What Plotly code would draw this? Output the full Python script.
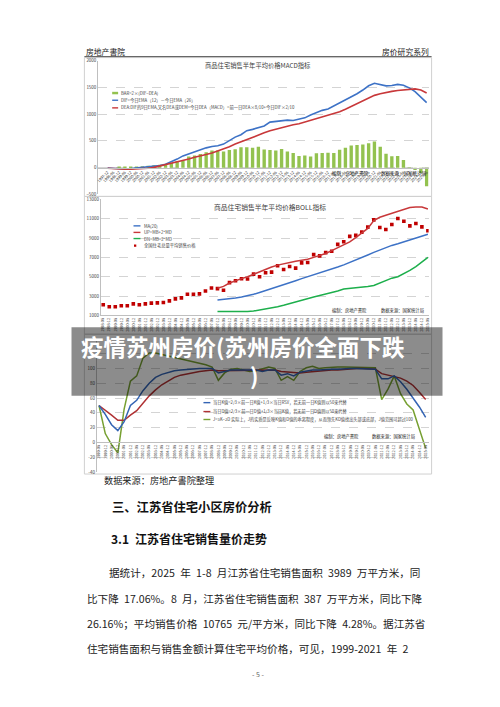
import plotly.graph_objects as go

W, H = 500, 707
FONT = "Noto Sans CJK SC"


def px(x):
    return x / W


def py(y):
    return 1 - y / H


# ---------------- data ----------------
periods = ["1997-12", "1998-06", "1998-12", "1999-06", "1999-12", "2000-06", "2000-12",
           "2001-06", "2001-12", "2002-06", "2002-12", "2003-06", "2003-12", "2004-06",
           "2004-12", "2005-06", "2005-12", "2006-06", "2006-12", "2007-06", "2007-12",
           "2008-06", "2008-12", "2009-06", "2009-12", "2010-06", "2010-12", "2011-06",
           "2011-12", "2012-06", "2012-12", "2013-06", "2013-12", "2014-06", "2014-12",
           "2015-06", "2015-12", "2016-06", "2016-12", "2017-06", "2017-12", "2018-06",
           "2018-12", "2019-06", "2019-12", "2020-06", "2020-12", "2021-06", "2021-12",
           "2022-06", "2022-12", "2023-06", "2023-12", "2024-06", "2024-12", "2025-06"]

# MACD chart
macd_labels = periods
macd_dif = [-5, -15, -25, -25, -18, -8, 5, 15, 25, 40,
            65, 110, 160, 220, 260, 290, 330, 370, 395, 410,
            440, 510, 570, 615, 690, 715, 750, 780, 850, 860,
            875, 888, 882, 905, 930, 985, 1030, 1070, 1095, 1150,
            1199, 1255, 1320, 1380, 1450, 1530, 1575, 1550, 1528, 1535,
            1556, 1540, 1490, 1420, 1320, 1215]
macd_dea = [-10, -20, -25, -28, -28, -25, -20, -12, 5, 30,
            60, 80, 100, 130, 160, 193, 215, 245, 275, 310,
            345, 390, 440, 485, 530, 570, 620, 650, 690, 720,
            750, 776, 800, 820, 850, 885, 915, 945, 975, 1010,
            1045, 1090, 1140, 1190, 1250, 1300, 1350, 1380, 1405, 1425,
            1440, 1455, 1468, 1472, 1450, 1395]
macd_bar = [0, 0, 5, 10, 12, 18, 25, 35, 45, 55,
            65, 85, 120, 135, 210, 225, 255, 290, 320, 320,
            300, 330, 345, 380, 380, 370, 390, 340, 330, 320,
            350, 300, 275, 220, 225, 207, 270, 272, 280, 272,
            335, 370, 415, 425, 432, 455, 490, 390, 262, 213,
            220, 145, -8, -45, -100, -345]

# BOLL chart
boll_labels = periods[1:]
boll_price = [2094, 1889, 1889, 1991, 1991, 2197, 2094, 2197, 2265, 2299,
              2333, 2504, 2709, 2812, 3188, 3188, 3222, 3530, 3838, 3769,
              3598, 4385, 4590, 4795, 4761, 5274, 5000, 5410, 5479, 6128,
              5752, 6060, 5889, 6436, 6470, 7291, 7154, 7496, 7632, 8350,
              8624, 9171, 9274, 9615, 10128, 10880, 10094, 9889, 10402, 11017,
              10744, 10265, 10504, 10162, 9752]
boll_line_labels = boll_labels[19:]
boll_ma = [2600, 2650, 2720, 2800, 2900, 3020, 3180, 3370, 3560, 3770,
           3990, 4190, 4380, 4590, 4800, 4990, 5170, 5360, 5560, 5780,
           6000, 6230, 6470, 6720, 6990, 7250, 7520, 7780, 8010, 8240,
           8420, 8610, 8800, 8980, 9180, 9400]
boll_up = [3800, 4000, 4350, 4600, 4800, 5000, 5250, 5550, 5750, 6000,
           6200, 6350, 6500, 6600, 6700, 6800, 7000, 7200, 7400, 7700,
           8000, 8250, 8600, 9050, 9500, 10000, 10800, 11150, 11350, 11550,
           11750, 12000, 12150, 12200, 12200, 12000]
boll_dn = [1400, 1390, 1380, 1370, 1380, 1400, 1450, 1550, 1650, 1780,
           1900, 2050, 2230, 2430, 2620, 2770, 2900, 3050, 3180, 3350,
           3520, 3720, 3780, 3840, 3920, 4000, 4100, 4350, 4600, 4850,
           5000, 5300, 5650, 6050, 6500, 7000]
boll_ticks = [1000, 3000, 5000, 7000, 9000, 11000, 13000]

# KDJ chart
kdj_labels = periods[3:]
kdj_k = [50, 38, 24, 16, 28, 50, 57, 70, 80, 88,
         92, 95, 97, 98, 99, 99, 100, 100, 100, 94,
         96, 98, 98, 98, 99, 98, 96, 98, 98, 91,
         93, 90, 95, 97, 98, 98, 99, 99, 99, 100,
         100, 100, 100, 100, 99, 86, 86, 90, 82, 72,
         60, 48, 34]
kdj_d = [50, 44, 37, 30, 30, 37, 43, 53, 63, 71,
         78, 83, 88, 91, 93, 95, 96, 97, 98, 97,
         97, 97, 97, 97, 98, 98, 97, 97, 98, 96,
         95, 94, 94, 95, 96, 96, 97, 98, 98, 99,
         99, 100, 100, 100, 99, 93, 91, 90, 87, 83,
         77, 68, 58]
kdj_j = [50, 12, -3, -14, 45, 83, 90, 114, 121, 121,
         119, 117, 115, 113, 111, 109, 107, 105, 102, 84,
         94, 99, 100, 98, 96, 97, 100, 102, 100, 84,
         89, 84, 96, 101, 103, 100, 101, 102, 102, 102,
         102, 102, 101, 101, 101, 58, 72, 90, 66, 52,
         44, 18, -8]
kdj_ticks = [-40, -20, 0, 20, 40, 60, 80, 100, 120, 140]
kdj_ticktext = ["-40", "-20", "0", "20", "40", "60", "80", "100", "", ""]

# ---------------- styles ----------------
BLUE = "#3D72C6"
RED = "#C8383A"
BAR_GREEN = "#93C24F"
BOLL_GREEN = "#1DAF4C"
KDJ_GREEN = "#77A032"
KDJ_BLUE = "#3464B4"
KDJ_RED = "#B03234"
GRID = "#D4D4D4"
AXIS = "#BFBFBF"
TICK = dict(family=FONT, size=4.5, color="#404040")
XTICK = dict(family=FONT, size=3.8, color="#404040")

fig = go.Figure()

# MACD traces
fig.add_bar(x=macd_labels, y=macd_bar, marker=dict(color=BAR_GREEN, line=dict(width=0)),
            width=0.58, xaxis="x", yaxis="y")
fig.add_scatter(x=macd_labels, y=macd_dif, mode="lines", line=dict(color=BLUE, width=1.6),
                xaxis="x", yaxis="y")
fig.add_scatter(x=macd_labels, y=macd_dea, mode="lines", line=dict(color=RED, width=1.6),
                xaxis="x", yaxis="y")

# BOLL traces
fig.add_scatter(x=boll_labels, y=boll_price, mode="markers",
                marker=dict(symbol="square", size=3.6, color="#C00000", line=dict(width=0)),
                xaxis="x2", yaxis="y2")
fig.add_scatter(x=boll_line_labels, y=boll_ma, mode="lines", line=dict(color=BLUE, width=1.5),
                xaxis="x2", yaxis="y2")
fig.add_scatter(x=boll_line_labels, y=boll_up, mode="lines", line=dict(color=RED, width=1.5),
                xaxis="x2", yaxis="y2")
fig.add_scatter(x=boll_line_labels, y=boll_dn, mode="lines", line=dict(color=BOLL_GREEN, width=1.5),
                xaxis="x2", yaxis="y2")

# KDJ traces
fig.add_scatter(x=kdj_labels, y=kdj_j, mode="lines", line=dict(color=KDJ_GREEN, width=1.5),
                xaxis="x3", yaxis="y3")
fig.add_scatter(x=kdj_labels, y=kdj_d, mode="lines", line=dict(color=KDJ_RED, width=1.5),
                xaxis="x3", yaxis="y3")
fig.add_scatter(x=kdj_labels, y=kdj_k, mode="lines", line=dict(color=KDJ_BLUE, width=1.5),
                xaxis="x3", yaxis="y3")

# ---------------- axes ----------------
Y1 = [-500, 2000]
D1 = [py(185), py(50)]
zero1 = D1[0] + (0 - Y1[0]) / (Y1[1] - Y1[0]) * (D1[1] - D1[0])
Y2 = [1000, 13000]
D2 = [py(307), py(190)]
Y3 = [-40, 140]
D3 = [py(465), py(330.7)]
zero3 = D3[0] + (0 - Y3[0]) / (Y3[1] - Y3[0]) * (D3[1] - D3[0])

common_y = dict(showgrid=True, gridcolor=GRID, griddash="dash", gridwidth=0.8,
                showline=True, linecolor=AXIS, linewidth=1, zeroline=False,
                tickfont=TICK, ticks="", fixedrange=True, tickformat="d")
common_x = dict(type="category", showgrid=False, showline=True, linecolor=AXIS,
                linewidth=1, ticks="", zeroline=False, fixedrange=True)

fig.update_layout(
    xaxis=dict(common_x, domain=[px(89), px(422)], anchor="free", position=zero1,
               range=[-1.59, 55.34], categoryorder="array", categoryarray=macd_labels,
               tickmode="array", tickvals=macd_labels,
               ticktext=macd_labels, tickangle=-45, tickfont=XTICK),
    yaxis=dict(common_y, domain=D1, range=Y1, dtick=500, anchor="x"),
    xaxis2=dict(common_x, domain=[px(91.7), px(422)], anchor="y2",
                range=[-0.38, 54.12], categoryorder="array", categoryarray=boll_labels,
                tickmode="array", tickvals=boll_labels,
                ticktext=boll_labels, tickangle=-90, tickfont=XTICK),
    yaxis2=dict(common_y, domain=D2, range=Y2, tickmode="array", tickvals=boll_ticks,
                anchor="x2"),
    xaxis3=dict(common_x, domain=[px(87.5), px(422)], anchor="free", position=zero3,
                range=[-0.35, 52.47], categoryorder="array", categoryarray=kdj_labels,
                tickmode="array", tickvals=kdj_labels,
                ticktext=kdj_labels, tickangle=-90, tickfont=XTICK),
    yaxis3=dict(common_y, domain=D3, range=Y3, tickmode="array", tickvals=kdj_ticks,
                ticktext=kdj_ticktext, anchor="x3"),
)

# ---------------- shapes & annotations ----------------
shapes = []
annotations = []


def text(x, y, s, size, color="#333333", anchor="left", bold=False, family=FONT):
    annotations.append(dict(
        x=px(x), y=py(y), xref="paper", yref="paper", text=s, showarrow=False,
        xanchor=anchor, yanchor="middle",
        font=dict(family=family, size=size, color=color, weight="bold" if bold else "normal")))


def hline(x0, x1, y, color, width=1.0, layer="above"):
    shapes.append(dict(type="line", xref="paper", yref="paper", x0=px(x0), x1=px(x1),
                       y0=py(y), y1=py(y), line=dict(color=color, width=width), layer=layer))


def rect(x0, y0, x1, y1, line=None, fill=None, layer="below"):
    shapes.append(dict(type="rect", xref="paper", yref="paper", x0=px(x0), x1=px(x1),
                       y0=py(y0), y1=py(y1),
                       line=dict(color=line or "rgba(0,0,0,0)", width=1 if line else 0),
                       fillcolor=fill or "rgba(0,0,0,0)", layer=layer))


# page header
text(75, 40.5, "房地产書院", 7.8, "#222222")
text(424, 40.5, "房价研究系列", 7.8, "#222222", anchor="right")
hline(75, 425, 46, "#555555", 1)

# chart frames
rect(75, 47, 425, 187, line="#D0D0D0")
rect(75, 187, 425, 326, line="#D0D0D0")
rect(75, 326, 425, 467, line="#D0D0D0")

# MACD chart title & legend
text(250, 54.5, "商品住宅销售半年平均价格MACD指标", 6.3, "#404040", anchor="center")
rect(103, 81.5, 109, 84, fill=BAR_GREEN, layer="above")
text(110, 82.7, "BAR=2×(DIF−DEA)", 4.3, "#404040")
hline(103, 109, 90, BLUE, 1.4)
text(110, 90, "DIF=今日EMA（12）－今日EMA（26）", 4.3, "#404040")
hline(103, 109, 97.7, RED, 1.4)
text(110, 97.7, "DEA:DIF的9日EMA,又名DEA或DEM=今日DEA（MACD）=前一日DEA×8/10+今日DIF×2/10", 4.3, "#404040")
text(323, 164, "编制：房地产書院", 4.5, "#222222")
text(372, 164, "数据来源：国家统计局", 4.5, "#222222")

# BOLL chart title & legend
text(262, 198, "商品住宅销售半年平均价格BOLL指标", 6.8, "#404040", anchor="center")
hline(124.5, 131.5, 216.7, BLUE, 1.4)
text(132.7, 216.7, "MA(20)", 4.3, "#404040")
hline(124.5, 131.5, 223.3, RED, 1.4)
text(132.7, 223.3, "UP=MB+2*MD", 4.3, "#404040")
hline(124.5, 131.5, 229.5, BOLL_GREEN, 1.4)
text(132.7, 229.5, "DN=MB−2*MD", 4.3, "#404040")
rect(125, 235.5, 127.3, 237.8, fill="#C00000", layer="above")
text(132.7, 236.7, "全国住宅总量平均销售价格", 4.3, "#404040")
text(323, 301.7, "编制：房地产書院", 4.3, "#222222")
text(372, 301.7, "数据来源：国家统计局", 4.3, "#222222")

# KDJ chart legend
hline(195, 202, 395, KDJ_BLUE, 1.4)
text(203, 395, "当日K值=2/3×前一日K值+1/3×当日RSV，若无前一日K值则以50来代替", 4.2, "#404040")
hline(195, 202, 404, KDJ_RED, 1.4)
text(203, 404, "当日D值=2/3×前一日D值+1/3×当日K值，若无前一日D值则以50来代替", 4.2, "#404040")
hline(195, 202, 412, KDJ_GREEN, 1.4)
text(203, 412, "J=3K−2D 实际上，J的实质是反映K值和D值的乖离程度，从而领先KD值找出头部或底部，J值范围可超过100", 4.2, "#404040")
text(315, 429.3, "编制：房地产書院", 4.3, "#222222")
text(363, 429.3, "数据来源：国家统计局", 4.3, "#222222")

# overlay band with article title
rect(62, 319, 436, 388, fill="rgba(0,0,0,0.45)", layer="above")
text(70, 338, "疫情苏州房价(苏州房价全面下跌", 22.5, "#FFFFFF", bold=True)
text(246, 367, ")", 22.5, "#FFFFFF", anchor="center", bold=True)

# document text (en-spaces mimic the half-width spacing of the original)
SP = "\u2002"
PS = 10.6
text(93, 473, "数据来源：房地产書院整理", 9.2, "#222222")
text(101, 500, "三、江苏省住宅小区房价分析", 12.3, "#111111", bold=True)
text(100, 532, "3.1" + SP + "江苏省住宅销售量价走势", 12, "#111111", bold=True)
text(98, 566.5, "据统计，2025" + SP + "年" + SP + "1-8" + SP + "月江苏省住宅销售面积" + SP
     + "3989" + SP + "万平方米，同", PS, "#222222")
text(76, 592.3, "比下降" + SP + "17.06%。8" + SP + "月，江苏省住宅销售面积" + SP + "387" + SP
     + "万平方米，同比下降", PS, "#222222")
text(76, 617.8, "26.16%；平均销售价格" + SP + "10765" + SP + "元/平方米，同比下降" + SP
     + "4.28%。据江苏省", PS, "#222222")
text(76, 643.3, "住宅销售面积与销售金额计算住宅平均价格，可见，1999-2021" + SP + "年" + SP + "2",
     PS, "#222222")
text(250, 669, "- 5 -", 7, "#666666", anchor="center")

fig.update_layout(
    width=W, height=H, margin=dict(l=0, r=0, t=0, b=0),
    paper_bgcolor="white", plot_bgcolor="white", showlegend=False,
    shapes=shapes, annotations=annotations, bargap=0.4,
    font=dict(family=FONT),
)

fig.write_html("out.html")
